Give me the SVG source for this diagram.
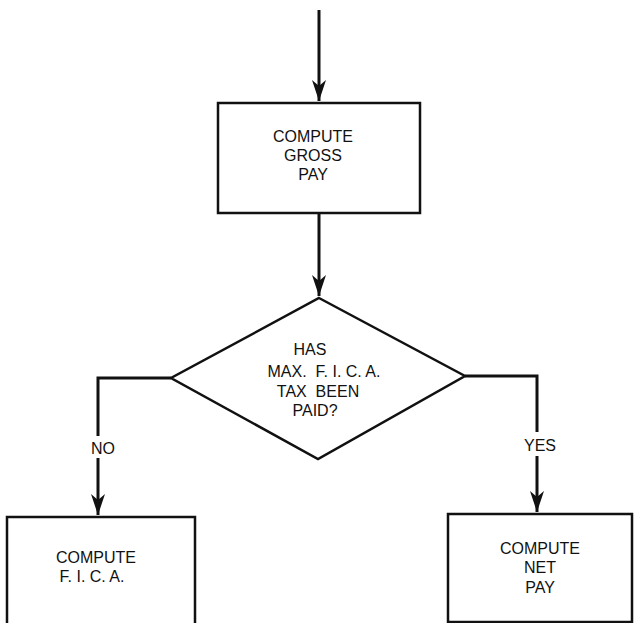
<svg xmlns="http://www.w3.org/2000/svg" width="635" height="623" viewBox="0 0 635 623">
<style>
.box{fill:#fff;stroke:#111;stroke-width:2.5}
.ln{fill:none;stroke:#111;stroke-width:3}
.t{font-family:"Liberation Sans",Arial,sans-serif;font-size:16px;fill:#111;text-anchor:middle;white-space:pre}
</style>
<defs>
<marker id="ah" markerUnits="userSpaceOnUse" markerWidth="22" markerHeight="16" viewBox="0 0 22 16" refX="21" refY="8" orient="auto">
<path d="M0,1 L6,8 L0,15 L21,8 Z" fill="#111"/>
</marker>
</defs>
<rect width="635" height="623" fill="#fff"/>
<g id="connectors">
<path class="ln" d="M319,10 V101" marker-end="url(#ah)"/>
<path class="ln" d="M319,213 V296" marker-end="url(#ah)"/>
<path class="ln" d="M171,378 H98 V436"/>
<path class="ln" d="M98,458 V515" marker-end="url(#ah)"/>
<path class="ln" d="M465,376 H537 V432"/>
<path class="ln" d="M537,456 V512" marker-end="url(#ah)"/>
<text class="t" x="103" y="454">NO</text>
<text class="t" x="540" y="451">YES</text>
</g>
<g id="gross">
<rect class="box" x="218" y="103" width="202" height="110"/>
<text class="t" x="313" y="142">COMPUTE</text>
<text class="t" x="313" y="161">GROSS</text>
<text class="t" x="313" y="180">PAY</text>
</g>
<g id="decision">
<polygon class="box" points="319,298 465,376 318,459 171,378" stroke-width="3"/>
<text class="t" x="310" y="355">HAS</text>
<text class="t" x="324" y="377" xml:space="preserve">MAX.  F. I. C. A.</text>
<text class="t" x="318" y="397" xml:space="preserve">TAX  BEEN</text>
<text class="t" x="315" y="416">PAID?</text>
</g>
<g id="fica">
<path class="box" d="M7,626 V517 H195 V626"/>
<text class="t" x="96" y="563">COMPUTE</text>
<text class="t" x="92" y="582">F. I. C. A.</text>
</g>
<g id="netpay">
<rect class="box" x="448" y="514" width="184" height="108"/>
<text class="t" x="540" y="554">COMPUTE</text>
<text class="t" x="540" y="573">NET</text>
<text class="t" x="540" y="593">PAY</text>
</g>
</svg>
